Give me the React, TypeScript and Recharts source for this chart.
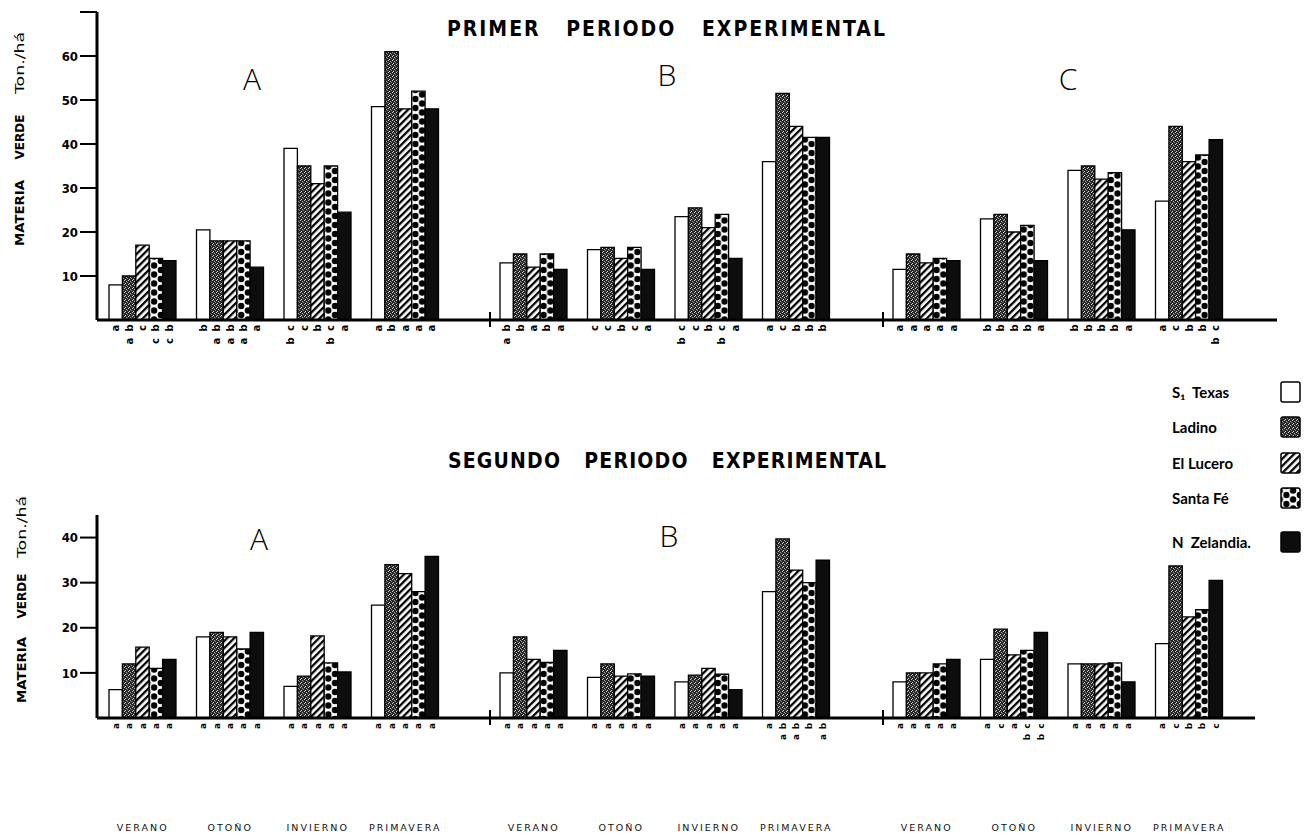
import { BarChart, Bar, XAxis, YAxis, LabelList } from "recharts";

const SEASONS = ["VERANO", "OTOÑO", "INVIERNO", "PRIMAVERA"];
const SECTIONS = ["A", "B", "C"];
const VARIETIES = ["S₁  Texas", "Ladino", "El Lucero", "Santa Fé", "N  Zelandia."];

// primer periodo: A (ver, oto, inv, pri), B (...), C (...)
const P1_TEXAS = [8, 20.5, 39, 48.5, 13, 16, 23.5, 36, 11.5, 23, 34, 27];
const P1_LADINO = [10, 18, 35, 61, 15, 16.5, 25.5, 51.5, 15, 24, 35, 44];
const P1_LUCERO = [17, 18, 31, 48, 12, 14, 21, 44, 13, 20, 32, 36];
const P1_SANTAFE = [14, 18, 35, 52, 15, 16.5, 24, 41.5, 14, 21.5, 33.5, 37.5];
const P1_NZ = [13.5, 12, 24.5, 48, 11.5, 11.5, 14, 41.5, 13.5, 13.5, 20.5, 41];

// segundo periodo
const P2_TEXAS = [6.3, 18, 7, 25, 10, 9, 8, 28, 8, 13, 12, 16.5];
const P2_LADINO = [12, 19, 9.3, 34, 18, 12, 9.5, 39.7, 10, 19.7, 12, 33.7];
const P2_LUCERO = [15.7, 18, 18.2, 32, 13, 9.3, 11, 32.8, 10, 14, 12, 22.4];
const P2_SANTAFE = [11, 15.3, 12.2, 28, 12.3, 9.8, 9.7, 30, 12, 15, 12.2, 24];
const P2_NZ = [13, 19, 10.2, 35.8, 15, 9.3, 6.3, 35, 13, 19, 8, 30.5];

// letras de significancia, la primera es la de arriba
const P1_TEXAS_L = ["a", "b", "cb", "a", "ba", "c", "cb", "a", "a", "b", "b", "a"];
const P1_LADINO_L = ["ba", "ba", "c", "b", "b", "c", "c", "c", "a", "b", "b", "c"];
const P1_LUCERO_L = ["c", "ba", "b", "a", "a", "b", "b", "b", "a", "b", "b", "b"];
const P1_SANTAFE_L = ["bc", "ba", "cb", "a", "b", "c", "cb", "b", "a", "b", "b", "b"];
const P1_NZ_L = ["bc", "a", "a", "a", "a", "a", "a", "b", "a", "a", "a", "cb"];

const P2_TEXAS_L = ["a", "a", "a", "a", "a", "a", "a", "a", "a", "a", "a", "a"];
const P2_LADINO_L = ["a", "a", "a", "a", "a", "a", "a", "ba", "a", "c", "a", "c"];
const P2_LUCERO_L = ["a", "a", "a", "a", "a", "a", "a", "ba", "a", "a", "a", "b"];
const P2_SANTAFE_L = ["a", "a", "a", "a", "a", "a", "a", "b", "a", "cb", "a", "b"];
const P2_NZ_L = ["a", "a", "a", "a", "a", "a", "a", "ba", "a", "cb", "a", "c"];

const P1_TICKS = [10, 20, 30, 40, 50, 60, 70];
const P2_TICKS = [10, 20, 30, 40];

const KEYS = ["texas", "ladino", "lucero", "santafe", "nz"];
const FILLS = ["#fff", "url(#pLadino)", "url(#pLucero)", "url(#pSantaFe)", "#0d0d0d"];

const buildRows = (vals: number[][], lets: string[][], s: number) =>
  SEASONS.map((season, i) => {
    const r: any = { season };
    KEYS.forEach((k, j) => {
      r[k] = vals[j][s * 4 + i];
      r[k + "L"] = lets[j][s * 4 + i];
    });
    return r;
  });

const P1_VALS = [P1_TEXAS, P1_LADINO, P1_LUCERO, P1_SANTAFE, P1_NZ];
const P1_LETS = [P1_TEXAS_L, P1_LADINO_L, P1_LUCERO_L, P1_SANTAFE_L, P1_NZ_L];
const P2_VALS = [P2_TEXAS, P2_LADINO, P2_LUCERO, P2_SANTAFE, P2_NZ];
const P2_LETS = [P2_TEXAS_L, P2_LADINO_L, P2_LUCERO_L, P2_SANTAFE_L, P2_NZ_L];

// cajas de cada sección (A lleva el eje Y)
const BOXES_TOP = [
  { left: 0, width: 490, pad: [2, 41] },
  { left: 490, width: 393, pad: [0, 43] },
  { left: 883, width: 394, pad: [0, 44] },
];
const BOXES_BOTTOM = [
  { left: 0, width: 490, pad: [2, 41] },
  { left: 490, width: 393, pad: [0, 43] },
  { left: 883, width: 372, pad: [0, 22] },
];

const letters = (fs: number, step: number) => (props: any) => {
  const { x, y, width, height, value } = props;
  if (!value) return null;
  const cx = Number(x) + Number(width) / 2;
  const base = Number(y) + Number(height);
  return (
    <g>
      {String(value)
        .split("")
        .map((ch, i) => {
          const cy = base + 8 + i * step;
          return (
            <text
              key={i}
              x={cx}
              y={cy}
              transform={`rotate(-90 ${cx} ${cy})`}
              textAnchor="middle"
              dominantBaseline="central"
              fontSize={fs}
              fontWeight={700}
              fontFamily="DejaVu Sans"
              fill="#000"
            >
              {ch}
            </text>
          );
        })}
    </g>
  );
};

const SeasonTick = (props: any) => (
  <text
    x={props.x}
    y={props.y + 113}
    textAnchor="middle"
    fontSize={9.5}
    letterSpacing={2}
    fontFamily="DejaVu Sans"
    fill="#111"
  >
    {props.payload.value}
  </text>
);

type SectionProps = {
  data: any[];
  box: { left: number; width: number; pad: number[] };
  showY: boolean;
  yMax: number;
  ticks: number[];
  top: number;
  plotH: number;
  axisH: number;
  seasons: boolean;
  fs: number;
  step: number;
};

const Section = ({ data, box, showY, yMax, ticks, top, plotH, axisH, seasons, fs, step }: SectionProps) => (
  <div style={{ position: "absolute", left: box.left, top }}>
    <BarChart
      width={box.width}
      height={12 + plotH + axisH}
      data={data}
      margin={{ top: 12, right: 0, bottom: 0, left: 0 }}
      barGap={0}
    >
      <XAxis
        dataKey="season"
        padding={{ left: box.pad[0], right: box.pad[1] }}
        height={axisH}
        axisLine={{ stroke: "#000", strokeWidth: 3 }}
        tickLine={false}
        tickSize={0}
        tickMargin={0}
        interval={0}
        tick={seasons ? SeasonTick : false}
      />
      <YAxis
        hide={!showY}
        width={97}
        domain={[0, yMax]}
        ticks={ticks}
        interval={0}
        axisLine={{ stroke: "#000", strokeWidth: 3 }}
        tickLine={{ stroke: "#000", strokeWidth: 2 }}
        tickSize={17}
        tickMargin={2}
        tickFormatter={(v: number) => (v === 70 ? "" : String(v))}
        tick={{ fill: "#000", fontSize: 13, fontWeight: 700, fontFamily: "DejaVu Sans Condensed, DejaVu Sans" }}
      />
      {KEYS.map((k, j) => (
        <Bar
          key={k}
          dataKey={k}
          barSize={13.4}
          fill={FILLS[j]}
          stroke="#000"
          strokeWidth={1.3}
          isAnimationActive={false}
        >
          <LabelList dataKey={k + "L"} content={letters(fs, step)} />
        </Bar>
      ))}
    </BarChart>
  </div>
);

const LEGEND_Y = [392, 427, 463, 498, 542];
const TOP_LABELS = [
  [252, 80],
  [667, 76],
  [1068, 80],
];
const BOTTOM_LABELS = [
  [259, 540],
  [669, 537],
];

const AxisTitle = ({ x, ys }: { x: number; ys: number[] }) => (
  <g fontFamily="DejaVu Sans" fontSize={12} fill="#000">
    {["MATERIA", "VERDE", "Ton./há"].map((w, i) => (
      <text
        key={w}
        x={x}
        y={ys[i]}
        transform={`rotate(-90 ${x} ${ys[i]})`}
        textAnchor="middle"
        dominantBaseline="central"
        fontWeight={i === 2 ? 400 : 700}
        textLength={[66, 45, 62][i]}
        lengthAdjust="spacingAndGlyphs"
      >
        {w}
      </text>
    ))}
  </g>
);

export default function App() {
  const baseTop = 12 + 308;
  const baseBottom = 503 + 12 + 203;
  return (
    <div style={{ position: "absolute", left: 0, top: 0, width: 1304, height: 839, background: "#fff" }}>
      <svg width={1304} height={839} style={{ position: "absolute", left: 0, top: 0 }}>
        <defs>
          <pattern id="pLadino" width="4" height="4" patternUnits="userSpaceOnUse">
            <rect width="4" height="4" fill="#262626" />
            <rect x="0" y="0" width="1" height="1" fill="#d0d0d0" />
            <rect x="2" y="1" width="1" height="1" fill="#b0b0b0" />
            <rect x="1" y="3" width="1" height="1" fill="#d8d8d8" />
            <rect x="3" y="2" width="1" height="1" fill="#8a8a8a" />
          </pattern>
          <pattern id="pLucero" width="5" height="5" patternUnits="userSpaceOnUse" patternTransform="rotate(45)">
            <rect width="5" height="5" fill="#fff" />
            <rect width="2.3" height="5" fill="#000" />
          </pattern>
          <pattern id="pSantaFe" width="13.4" height="9" patternUnits="userSpaceOnUse">
            <rect width="13.4" height="9" fill="#fff" />
            <circle cx="6.7" cy="4.5" r="3.2" fill="#000" />
            <circle cx="0" cy="0" r="3.2" fill="#000" />
            <circle cx="13.4" cy="0" r="3.2" fill="#000" />
            <circle cx="0" cy="9" r="3.2" fill="#000" />
            <circle cx="13.4" cy="9" r="3.2" fill="#000" />
          </pattern>
        </defs>

        <text
          x={666}
          y={36}
          textAnchor="middle"
          textLength={438}
          lengthAdjust="spacing"
          fontFamily="DejaVu Sans Condensed, DejaVu Sans"
          fontWeight={700}
          fontSize={21}
          style={{ whiteSpace: "pre" }}
        >
          {"PRIMER   PERIODO   EXPERIMENTAL"}
        </text>
        <text
          x={667}
          y={468}
          textAnchor="middle"
          textLength={438}
          lengthAdjust="spacing"
          fontFamily="DejaVu Sans Condensed, DejaVu Sans"
          fontWeight={700}
          fontSize={21}
          style={{ whiteSpace: "pre" }}
        >
          {"SEGUNDO   PERIODO   EXPERIMENTAL"}
        </text>

        {TOP_LABELS.map(([x, y], i) => (
          <text key={i} x={x} y={y + 10} textAnchor="middle" fontSize={30} fontFamily="Open Sans" fontWeight={300}>
            {SECTIONS[i]}
          </text>
        ))}
        {BOTTOM_LABELS.map(([x, y], i) => (
          <text key={i} x={x} y={y + 10} textAnchor="middle" fontSize={30} fontFamily="Open Sans" fontWeight={300}>
            {SECTIONS[i]}
          </text>
        ))}

        <AxisTitle x={20} ys={[213, 137, 63]} />
        <AxisTitle x={22} ys={[670, 596, 527]} />

        {[BOXES_TOP[1], BOXES_TOP[2]].map((b, i) => (
          <line key={"t" + i} x1={b.left} x2={b.left} y1={baseTop - 8} y2={baseTop + 7} stroke="#000" strokeWidth={2} />
        ))}
        {[BOXES_BOTTOM[1], BOXES_BOTTOM[2]].map((b, i) => (
          <line key={"b" + i} x1={b.left} x2={b.left} y1={baseBottom - 8} y2={baseBottom + 7} stroke="#000" strokeWidth={2} />
        ))}

        {VARIETIES.map((name, i) => (
          <g key={name}>
            <text
              x={1172}
              y={LEGEND_Y[i]}
              dominantBaseline="central"
              fontFamily="Lato"
              fontWeight={700}
              fontSize={15}
              fill="#000"
              style={{ whiteSpace: "pre" }}
            >
              {name}
            </text>
            <rect
              x={1281}
              y={LEGEND_Y[i] - 10}
              width={19}
              height={20}
              fill={FILLS[i]}
              stroke="#000"
              strokeWidth={1.5}
              rx={2}
            />
          </g>
        ))}
      </svg>

      {BOXES_TOP.map((box, s) => (
        <Section
          key={"p1" + s}
          data={buildRows(P1_VALS, P1_LETS, s)}
          box={box}
          showY={s === 0}
          yMax={70}
          ticks={P1_TICKS}
          top={0}
          plotH={308}
          axisH={40}
          seasons={false}
          fs={10}
          step={13}
        />
      ))}
      {BOXES_BOTTOM.map((box, s) => (
        <Section
          key={"p2" + s}
          data={buildRows(P2_VALS, P2_LETS, s)}
          box={box}
          showY={s === 0}
          yMax={45}
          ticks={P2_TICKS}
          top={503}
          plotH={203}
          axisH={121}
          seasons={true}
          fs={9}
          step={11}
        />
      ))}
    </div>
  );
}
